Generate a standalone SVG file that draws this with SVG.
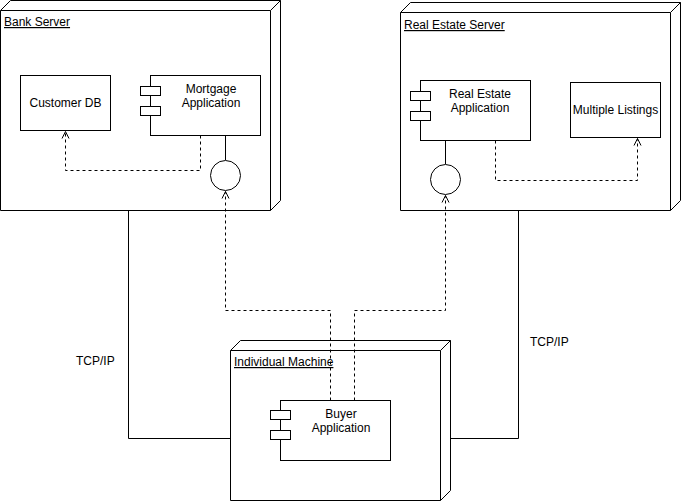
<svg xmlns="http://www.w3.org/2000/svg" width="681" height="501" viewBox="0 0 681 501">
<style>
.s{fill:#fff;stroke:#000;stroke-width:1}
.n{fill:none;stroke:#000;stroke-width:1}
.d{fill:none;stroke:#000;stroke-width:1;stroke-dasharray:3 3}
.t{font-family:"Liberation Sans",Arial,sans-serif;font-size:12px;fill:#000}
.c{text-anchor:middle}
.u{text-decoration:underline}
</style>
<defs>
<marker id="open" markerWidth="10" markerHeight="10" refX="8" refY="5" orient="auto" markerUnits="userSpaceOnUse">
<path d="M1,1.5 L8,5 L1,8.5" fill="none" stroke="#000" stroke-width="1"/>
</marker>
</defs>
<rect width="681" height="501" fill="#fff"/>
<g id="links">
<polyline class="n" points="128.5,210 128.5,438.5 230,438.5"/>
<polyline class="n" points="440,438.5 518.5,438.5 518.5,210"/>
<text class="t" x="76" y="365">TCP/IP</text>
<text class="t" x="530" y="346">TCP/IP</text>
</g>
<g id="bank-server">
<path class="s" d="M0.5,10.5 L10.5,0.5 L280.5,0.5 L280.5,200.5 L270.5,210.5 L0.5,210.5 Z"/>
<path class="n" d="M0.5,10.5 L270.5,10.5 L280.5,0.5 M270.5,10.5 L270.5,210.5"/>
<text class="t u" x="4" y="26">Bank Server</text>
</g>
<g id="real-estate-server">
<path class="s" d="M400.5,12.5 L410.5,2.5 L680.5,2.5 L680.5,200.5 L670.5,210.5 L400.5,210.5 Z"/>
<path class="n" d="M400.5,12.5 L670.5,12.5 L680.5,2.5 M670.5,12.5 L670.5,210.5"/>
<text class="t u" x="404" y="29">Real Estate Server</text>
</g>
<g id="individual-machine">
<path class="s" d="M230.5,350.5 L240.5,340.5 L450.5,340.5 L450.5,490.5 L440.5,500.5 L230.5,500.5 Z"/>
<path class="n" d="M230.5,350.5 L440.5,350.5 L450.5,340.5 M440.5,350.5 L440.5,500.5"/>
<text class="t u" x="234" y="366">Individual Machine</text>
</g>
<g id="customer-db">
<rect class="s" x="20.5" y="75.5" width="90" height="55"/>
<text class="t c" x="65.5" y="107">Customer DB</text>
</g>
<g id="mortgage-application">
<rect class="s" x="150.5" y="75.5" width="110" height="60"/>
<rect class="s" x="140.5" y="86.5" width="20" height="9"/>
<rect class="s" x="140.5" y="106.5" width="20" height="9"/>
<text class="t c" x="211" y="93">Mortgage</text>
<text class="t c" x="211" y="107">Application</text>
</g>
<g id="mortgage-interface">
<line class="n" x1="225.5" y1="135.5" x2="225.5" y2="160"/>
<circle class="s" cx="225.5" cy="175.5" r="15"/>
</g>
<g id="real-estate-application">
<rect class="s" x="420.5" y="80.5" width="110" height="60"/>
<rect class="s" x="410.5" y="91.5" width="20" height="9"/>
<rect class="s" x="410.5" y="111.5" width="20" height="9"/>
<text class="t c" x="480" y="98">Real Estate</text>
<text class="t c" x="480" y="112">Application</text>
</g>
<g id="real-estate-interface">
<line class="n" x1="445.5" y1="140.5" x2="445.5" y2="164"/>
<circle class="s" cx="445.5" cy="179.5" r="15"/>
</g>
<g id="multiple-listings">
<rect class="s" x="570.5" y="82.5" width="90" height="55"/>
<text class="t c" x="615.5" y="114">Multiple Listings</text>
</g>
<g id="buyer-application">
<rect class="s" x="280.5" y="400.5" width="110" height="60"/>
<rect class="s" x="270.5" y="410.5" width="20" height="9"/>
<rect class="s" x="270.5" y="430.5" width="20" height="9"/>
<text class="t c" x="341" y="418">Buyer</text>
<text class="t c" x="341" y="432">Application</text>
</g>
<g id="connectors">
<polyline class="d" points="200.5,135.5 200.5,170.5 65.5,170.5 65.5,131.5" marker-end="url(#open)"/>
<polyline class="d" points="495.5,140.5 495.5,180.5 637.5,180.5 637.5,138.5" marker-end="url(#open)"/>
<polyline class="d" points="330.5,400.5 330.5,310.5 225.5,310.5 225.5,191.5" marker-end="url(#open)"/>
<polyline class="d" points="354.5,400.5 354.5,310.5 445.5,310.5 445.5,195.5" marker-end="url(#open)"/>
</g>
</svg>
